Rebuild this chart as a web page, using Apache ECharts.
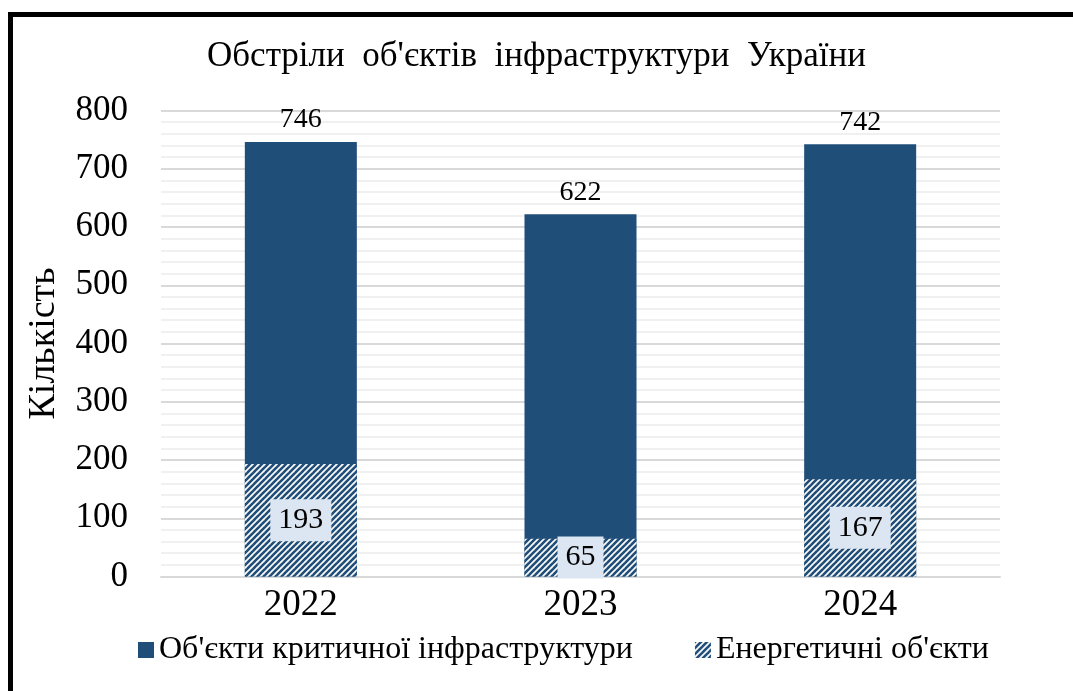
<!DOCTYPE html>
<html>
<head>
<meta charset="utf-8">
<script src="https://cdn.jsdelivr.net/npm/echarts@6/dist/echarts.min.js"></script>
<style>
html,body{margin:0;padding:0;background:#fff;}
#chart{width:1073px;height:691px;}
</style>
</head>
<body>
<div id="chart"></div>
<script>
const titleText = "Обстріли об'єктів інфраструктури України";
const yAxisName = "Кількість";
const categories = ["2022", "2023", "2024"];
const seriesNames = ["Об'єкти критичної інфраструктури", "Енергетичні об'єкти"];
const criticalValues = [746, 622, 742];
const energyValues = [193, 65, 167];

const BLUE = '#1f4e79';
const FONT = '"Liberation Serif", "Times New Roman", serif';

function makeHatch() {
  const s = 6;
  const c = document.createElement('canvas');
  c.width = s; c.height = s;
  const g = c.getContext('2d');
  g.fillStyle = '#ffffff';
  g.fillRect(0, 0, s, s);
  g.strokeStyle = BLUE;
  g.lineWidth = 2.6;
  for (let k = -1; k <= 1; k++) {
    g.beginPath();
    g.moveTo(k * s - 1, s + 1);
    g.lineTo(k * s + s + 1, -1);
    g.stroke();
  }
  return c;
}
const hatch = { image: makeHatch(), repeat: 'repeat' };

const chart = echarts.init(document.getElementById('chart'), null, { renderer: 'canvas' });
chart.setOption({
  backgroundColor: '#ffffff',
  animation: false,
  textStyle: { fontFamily: FONT },
  title: {
    text: titleText.split(' ').join('  '),
    left: 'center',
    top: 34,
    textStyle: { fontFamily: FONT, fontSize: 35, fontWeight: 'normal', color: '#000' }
  },
  graphic: [
    { type: 'rect', shape: { x: 8, y: 12, width: 1065, height: 5 }, style: { fill: '#000' } },
    { type: 'rect', shape: { x: 8, y: 12, width: 5, height: 679 }, style: { fill: '#000' } }
  ],
  legend: {
    top: 629,
    left: 133,
    itemWidth: 16,
    itemHeight: 16,
    itemGap: 62,
    icon: 'rect',
    textStyle: { fontFamily: FONT, fontSize: 32, color: '#000' },
    data: seriesNames
  },
  grid: { left: 161, right: 73, top: 110.5, bottom: 114.5, containLabel: false },
  xAxis: {
    type: 'category',
    data: categories,
    axisTick: { show: false },
    axisLine: { show: true, lineStyle: { color: '#d9d9d9', width: 2 } },
    axisLabel: { fontFamily: FONT, fontSize: 37, color: '#000', margin: 10 }
  },
  yAxis: {
    type: 'value',
    min: 0,
    max: 800,
    interval: 100,
    name: yAxisName,
    nameLocation: 'middle',
    nameGap: 98,
    nameTextStyle: { fontFamily: FONT, fontSize: 38, color: '#000' },
    axisLine: { show: false },
    axisTick: { show: false },
    axisLabel: { fontFamily: FONT, fontSize: 35, color: '#000', margin: 33 },
    splitLine: { show: true, lineStyle: { color: '#d9d9d9', width: 2 } },
    minorTick: { show: false, splitNumber: 5 },
    minorSplitLine: { show: true, lineStyle: { color: '#f0f0f0', width: 2 } }
  },
  series: [
    {
      name: seriesNames[0],
      type: 'bar',
      data: criticalValues,
      barWidth: 112,
      barGap: '-100%',
      itemStyle: { color: BLUE },
      label: { show: true, position: 'top', distance: 8, fontFamily: FONT, fontSize: 28, color: '#000' }
    },
    {
      name: seriesNames[1],
      type: 'bar',
      data: energyValues,
      barWidth: 112,
      barGap: '-100%',
      itemStyle: { color: hatch },
      label: {
        show: true, position: 'inside', fontFamily: FONT, fontSize: 30, color: '#000',
        backgroundColor: '#dce6f2', padding: [7, 8, 5, 8]
      }
    }
  ]
});
</script>
</body>
</html>
